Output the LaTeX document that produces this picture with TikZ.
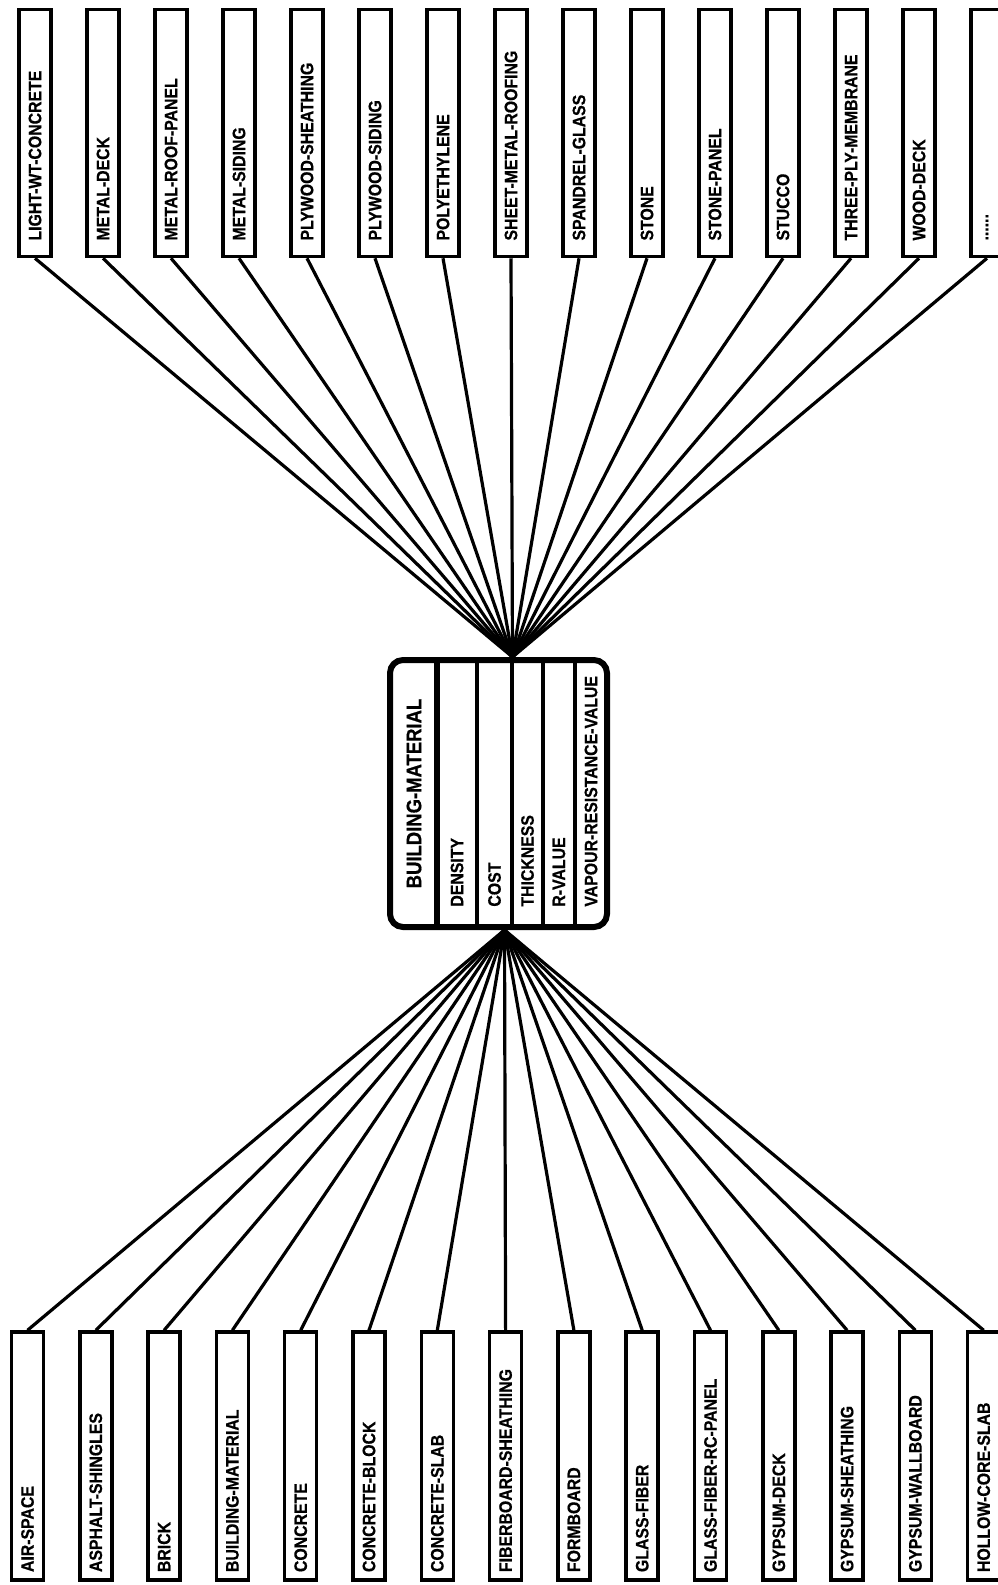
\documentclass[tikz,border=0pt]{standalone}
\usepackage{fontspec}
\newfontfamily\lblfont[FakeStretch=0.88,FakeBold=0.6]{Liberation Sans Bold}
\usetikzlibrary{calc}
\newcommand{\matdots}{......}

\begin{document}
\begin{tikzpicture}[x=0.5pt,y=-0.5pt,font=\lblfont\fontsize{9}{10}\selectfont]
\tikzstyle{m}=[draw,rotate=90,line width=1.75pt,minimum height=16pt,align=left]
\tikzstyle{w}=[line width=1.6pt]
\useasboundingbox (0,0) rectangle (997,1585);
\node[draw,line width=3pt,rounded corners=6.5pt,minimum width=108.5pt,minimum height=133.5pt] (bm) at (498.5,793.5) {};
\draw[line width=3pt] (437,0 |- bm.north) -- (437,0 |- bm.south);
\foreach \x in {477,512,543,575} { \draw[line width=1.75pt] (\x,0 |- bm.north) -- (\x,0 |- bm.south); }
\node[rotate=90,font=\lblfont\fontsize{10.5}{12}\selectfont] (bmt) at (414,793.5) {BUILDING-MATERIAL};
\foreach \i/\x/\n in {1/457/DENSITY,2/494.5/COST,3/527.5/THICKNESS,4/559/R-VALUE,5/591/VAPOUR-RESISTANCE-VALUE} { \node[rotate=90,anchor=west,inner sep=0pt] (a\i) at (\x,907) {\n}; }
\coordinate (jt) at ([xshift=7pt]bm.north);
\coordinate (jb) at ([xshift=3pt]bm.south);
\foreach \i/\n in {0/LIGHT-WT-CONCRETE,1/METAL-DECK,2/METAL-ROOF-PANEL,3/METAL-SIDING,4/PLYWOOD-SHEATHING,5/PLYWOOD-SIDING,6/POLYETHYLENE,7/SHEET-METAL-ROOFING,8/SPANDREL-GLASS,9/STONE,10/STONE-PANEL,11/STUCCO,12/THREE-PLY-MEMBRANE,13/WOOD-DECK,14/\matdots} { \node[m,inner xsep=8pt,text width=107.5pt] (t\i) at ({35+68*\i},133) {\n}; \draw[w] (t\i.west) -- (jt); }
\foreach \i/\n in {0/AIR-SPACE,1/ASPHALT-SHINGLES,2/BRICK,3/BUILDING-MATERIAL,4/CONCRETE,5/CONCRETE-BLOCK,6/CONCRETE-SLAB,7/FIBERBOARD-SHEATHING,8/FORMBOARD,9/GLASS-FIBER,10/GLASS-FIBER-RC-PANEL,11/GYPSUM-DECK,12/GYPSUM-SHEATHING,13/GYPSUM-WALLBOARD,14/HOLLOW-CORE-SLAB} { \node[m,inner xsep=4pt,text width=116pt] (b\i) at ({27.5+68.3*\i},1456) {\n}; \draw[w] (b\i.east) -- (jb); }
\end{tikzpicture}
\end{document}
